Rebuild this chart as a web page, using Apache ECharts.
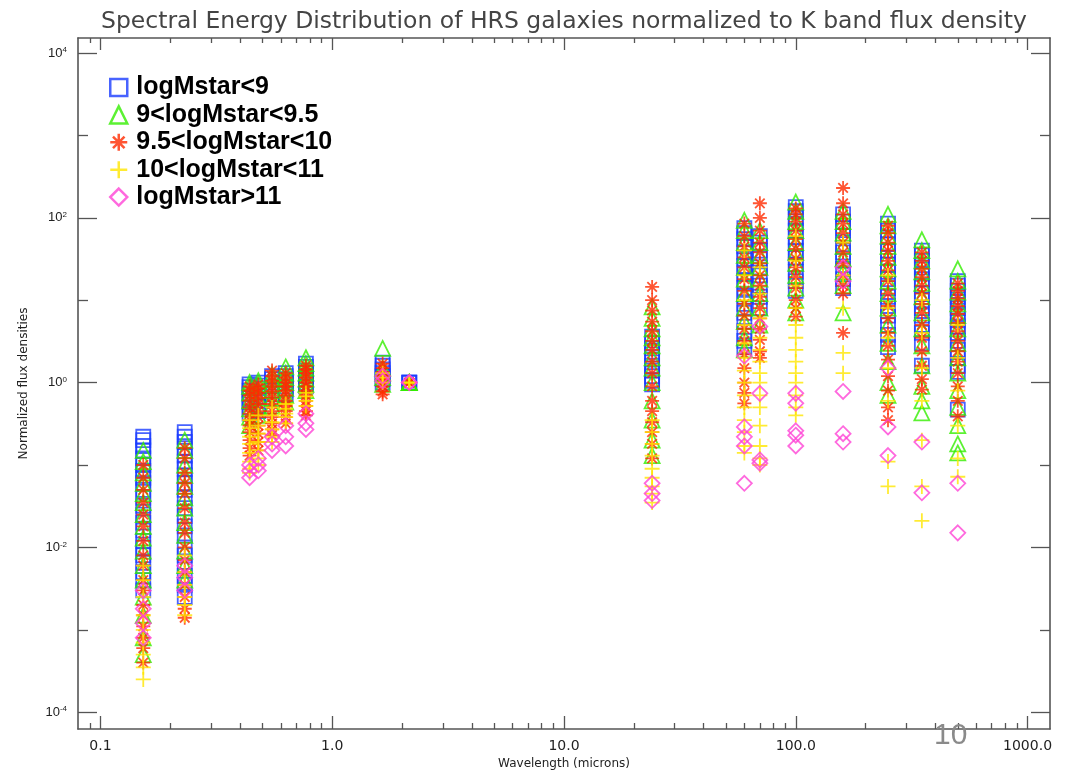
<!DOCTYPE html>
<html>
<head>
<meta charset="utf-8">
<title>HRS SED</title>
<script src="https://cdn.jsdelivr.net/npm/echarts@6/dist/echarts.min.js"></script>
<style>
    html, body {margin: 0; padding: 0; background: #ffffff;}
    #chart {width: 1074px; height: 774px;}
</style>
</head>
<body>
<div id="chart"></div>
<script>
// wavelengths (microns) of the bands: FUV, NUV, B, g, V, r, i, H, K, 24 ... 500
const bands = [0.153, 0.231, 0.44, 0.48, 0.55, 0.63, 0.77, 1.65, 2.15, 24, 60, 70, 100, 160, 250, 350, 500];

// flux densities normalized to K, one inner list per band (same order as bands)
const lowMass = [
    [0.22, 0.2, 0.17, 0.15, 0.12, 0.1, 0.085, 0.07, 0.06, 0.05, 0.04, 0.032, 0.025, 0.02, 0.016, 0.012, 0.01, 0.008, 0.0065, 0.005, 0.004, 0.003],
    [0.25, 0.22, 0.19, 0.16, 0.13, 0.11, 0.09, 0.075, 0.06, 0.05, 0.04, 0.03, 0.024, 0.018, 0.014, 0.01, 0.008, 0.006, 0.0045, 0.0035, 0.0025],
    [0.95, 0.88, 0.8, 0.72, 0.65, 0.58, 0.5, 0.42],
    [1.0, 0.92, 0.85, 0.75, 0.68, 0.6, 0.52, 0.45],
    [1.2, 1.1, 1.0, 0.9, 0.8, 0.72, 0.62],
    [1.3, 1.2, 1.1, 1.0, 0.9, 0.82, 0.72],
    [1.7, 1.55, 1.4, 1.3, 1.2, 1.1, 1.0, 0.9],
    [1.75, 1.6, 1.45, 1.3, 1.2, 1.1, 1.0],
    [1, 1, 1],
    [3.6, 3.0, 2.6, 2.2, 1.9, 1.6, 1.4, 1.2, 1.05, 0.95],
    [75, 65, 55, 45, 38, 32, 26, 21, 17, 14, 11, 9, 7, 5.5, 4.2, 3.2, 2.7],
    [60, 50, 40, 32, 25, 20, 15, 11, 8],
    [135, 120, 100, 85, 70, 58, 48, 40, 33, 27, 22, 17, 13],
    [110, 90, 75, 60, 48, 38, 30, 24, 18, 14],
    [85, 70, 58, 48, 40, 33, 27, 22, 18, 14, 11, 8.5, 6.5, 5, 3.8, 2.7],
    [40, 35, 30, 25, 21, 18, 15, 12, 10, 8, 6.5, 5, 4, 3, 1.6],
    [17, 15, 13, 11, 9.5, 8, 6.8, 5.7, 4.8, 4, 3.2, 2.5, 2.0, 1.6, 1.35, 0.47]
];
const midLowMass = [
    [0.15, 0.11, 0.08, 0.06, 0.045, 0.035, 0.025, 0.018, 0.013, 0.009, 0.006, 0.004, 0.0025, 0.0015, 0.0008, 0.0005],
    [0.2, 0.15, 0.1, 0.075, 0.055, 0.04, 0.03, 0.02, 0.014, 0.009, 0.006, 0.004],
    [1.0, 0.9, 0.75, 0.6, 0.48, 0.38, 0.3],
    [1.05, 0.95, 0.8, 0.65, 0.5, 0.4],
    [1.25, 1.1, 0.95, 0.8, 0.65, 0.52],
    [1.55, 1.3, 1.15, 1.0, 0.85, 0.7, 0.58],
    [2.0, 1.7, 1.5, 1.3, 1.1, 0.95, 0.8],
    [2.6, 1.5, 1.3, 1.15, 0.95],
    [1, 1, 1],
    [8.3, 6, 4.5, 3.5, 2.8, 2.0, 1.5, 1.0, 0.6, 0.35, 0.2, 0.13],
    [93, 70, 50, 35, 25, 18, 12, 8, 5.5, 3.5, 2.5],
    [70, 50, 35, 25, 18, 12, 8, 5],
    [155, 120, 90, 70, 50, 38, 28, 20, 14, 10, 7],
    [120, 90, 65, 45, 32, 22, 15, 7],
    [110, 80, 60, 45, 33, 24, 17, 12, 8, 5, 3, 1.8, 1.0, 0.7],
    [54, 40, 30, 22, 16, 11, 7, 4.5, 2.8, 1.6, 0.9, 0.6, 0.43],
    [24, 17, 12.5, 9, 6.5, 4.5, 3, 2, 1.3, 0.8, 0.5, 0.3, 0.18, 0.14]
];
const midHighMass = [
    [0.1, 0.07, 0.05, 0.035, 0.025, 0.018, 0.012, 0.008, 0.006, 0.004, 0.003, 0.002, 0.0015, 0.0011, 0.0008, 0.0006, 0.0004],
    [0.16, 0.12, 0.08, 0.06, 0.045, 0.03, 0.02, 0.015, 0.01, 0.007, 0.005, 0.0035, 0.0025, 0.0018, 0.0014],
    [0.9, 0.8, 0.7, 0.6, 0.5, 0.42, 0.35, 0.3, 0.25, 0.2, 0.16, 0.13],
    [0.95, 0.85, 0.75, 0.65, 0.55, 0.45, 0.38, 0.3, 0.24, 0.19, 0.15],
    [1.4, 1.2, 1.05, 0.9, 0.78, 0.66, 0.55, 0.45, 0.38, 0.32, 0.27, 0.23],
    [1.3, 1.15, 1.0, 0.9, 0.8, 0.7, 0.6, 0.52, 0.45, 0.38, 0.32],
    [1.6, 1.45, 1.3, 1.15, 1.0, 0.9, 0.8, 0.7, 0.6, 0.52, 0.45, 0.4],
    [1.7, 1.5, 1.35, 1.2, 1.1, 1.0, 0.9, 0.78, 0.72],
    [1, 1, 1],
    [14.5, 10, 7.5, 5.5, 4.2, 3.2, 2.5, 1.8, 1.3, 0.9, 0.6, 0.45, 0.33, 0.25, 0.18, 0.12],
    [85, 60, 45, 33, 25, 18, 13, 9, 6.5, 4.5, 3.2, 2.2, 1.5, 1.0, 0.75, 0.56],
    [150, 100, 70, 50, 38, 28, 20, 15, 11, 8, 6, 4.5, 3.3, 2.4, 2.0],
    [130, 110, 90, 70, 55, 42, 32, 25, 19, 14, 10, 8, 6.3],
    [230, 150, 110, 85, 65, 50, 38, 28, 20, 15, 12, 4.0],
    [80, 65, 50, 40, 30, 23, 17, 12, 8.5, 6, 4, 2.8, 1.9, 1.2, 0.8, 0.5, 0.35],
    [38, 30, 24, 19, 15, 12, 9, 7, 5, 3.5, 2.4, 1.6, 1.1, 0.82],
    [16, 13, 10.5, 8.5, 6.8, 5.3, 4.2, 3.2, 2.4, 1.8, 1.3, 0.9, 0.6, 0.39]
];
const highMass = [
    [0.006, 0.004, 0.0025, 0.0015, 0.001, 0.0007, 0.0005, 0.00035, 0.00025],
    [0.008, 0.005, 0.0035, 0.0025, 0.002, 0.0015],
    [0.35, 0.28, 0.22, 0.18, 0.14, 0.11, 0.09, 0.08],
    [0.4, 0.3, 0.24, 0.19, 0.15, 0.12, 0.1],
    [0.5, 0.4, 0.33, 0.27, 0.22, 0.19],
    [0.55, 0.48, 0.42, 0.38, 0.32],
    [0.75, 0.68, 0.6, 0.52],
    [1.3, 1.15, 1.0],
    [1, 1, 1],
    [0.35, 0.25, 0.18, 0.13, 0.09, 0.07, 0.055, 0.045, 0.035],
    [40, 20, 10, 5, 3, 2, 1.4, 1.0, 0.7, 0.5, 0.35, 0.25, 0.17, 0.14],
    [25, 12, 6, 3.5, 2.5, 1.8, 1.3, 1.0, 0.7, 0.5, 0.3, 0.17, 0.12, 0.1],
    [60, 30, 15, 8, 5, 3.5, 2.5, 1.8, 1.3, 1.0, 0.7, 0.5, 0.4],
    [50, 20, 8, 2.3, 1.3],
    [20, 8, 3.5, 1.5, 0.6, 0.11, 0.055],
    [10, 4, 1.5, 0.6, 0.2, 0.055, 0.021],
    [5, 2, 0.8, 0.3, 0.12, 0.072]
];
const massive = [
    [0.003, 0.0018, 0.0012, 0.0008],
    [0.006, 0.0043, 0.003],
    [0.1, 0.085, 0.07],
    [0.12, 0.1, 0.085],
    [0.22, 0.18, 0.15],
    [0.3, 0.22, 0.17],
    [0.42, 0.32, 0.27],
    [1.2, 1.05],
    [1, 1],
    [0.06, 0.045, 0.037],
    [2.1, 0.29, 0.22, 0.17, 0.06],
    [4.8, 0.74, 0.115, 0.105],
    [0.74, 0.56, 0.26, 0.23, 0.17],
    [25, 17, 0.78, 0.24, 0.19],
    [1.5, 0.29, 0.13],
    [0.19, 0.046],
    [0.06, 0.015]
];

const seriesNames = ['logMstar<9', '9<logMstar<9.5', '9.5<logMstar<10', '10<logMstar<11', 'logMstar>11'];

// axis ticks
const xMajorTicks = [0.1, 1, 10, 100, 1000];
const xTickLabels = ['0.1', '1.0', '10.0', '100.0', '1000.0'];
const xMinorTicks = [0.09, 0.2, 0.3, 0.4, 0.5, 0.6, 0.7, 0.8, 0.9, 2, 3, 4, 5, 6, 7, 8, 9,
    20, 30, 40, 50, 60, 70, 80, 90, 200, 300, 400, 500, 600, 700, 800, 900];
const yMajorTicks = [1e-4, 1e-2, 1, 1e2, 1e4];
const yTickExponents = ['-4', '-2', '0', '2', '4'];
const yMinorTicks = [1e-3, 1e-1, 10, 1e3];

const X_MIN = 0.08, X_MAX = 1250, Y_MIN = 6.25e-5, Y_MAX = 1.52e4;
const AXIS_COLOR = '#555555';

const groups = [lowMass, midLowMass, midHighMass, highMass, massive];
const colors = ['#1a3cff', '#33ee00', '#ff2a00', '#ffe600', '#ff44d6'];
const symbols = ['rect', 'triangle',
    'path://M0,5L10,5M5,0L5,10M1.6,1.6L8.4,8.4M8.4,1.6L1.6,8.4',
    'path://M0,5L10,5M5,0L5,10',
    'diamond'];
const sizes = [14, 15, 14, 15, 15];

function toPoints(group) {
    const pts = [];
    group.forEach(function (vals, j) {
        vals.forEach(function (v) {
            pts.push([bands[j], v]);
        });
    });
    return pts;
}

// position of a value in a tick list (log compare, the scale hands back pow() values)
function tickIndex(ticks, v) {
    for (let i = 0; i < ticks.length; i++) {
        if (Math.abs(Math.log10(ticks[i]) - Math.log10(v)) < 1e-6) return i;
    }
    return -1;
}

function xAxisOf(position, ticks, len, main) {
    return {
        type: 'log',
        position: position,
        min: X_MIN,
        max: X_MAX,
        axisLine: {show: main, onZero: false, lineStyle: {color: AXIS_COLOR, width: 1.6}},
        axisTick: {show: true, inside: true, length: len, customValues: ticks,
            lineStyle: {color: AXIS_COLOR, width: 1.3}},
        axisLabel: {
            show: main && position === 'bottom',
            customValues: xMajorTicks,
            formatter: function (v) {
                const i = tickIndex(xMajorTicks, v);
                return i < 0 ? '' : xTickLabels[i];
            },
            margin: 10,
            color: '#222222',
            fontFamily: 'DejaVu Sans',
            fontSize: 14
        },
        splitLine: {show: false},
        minorTick: {show: false},
        name: main && position === 'bottom' ? 'Wavelength (microns)' : '',
        nameLocation: 'middle',
        nameGap: 28,
        nameTextStyle: {color: '#222222', fontFamily: 'DejaVu Sans', fontSize: 12}
    };
}

function yAxisOf(position, ticks, len, main) {
    return {
        type: 'log',
        position: position,
        min: Y_MIN,
        max: Y_MAX,
        axisLine: {show: main, onZero: false, lineStyle: {color: AXIS_COLOR, width: 1.6}},
        axisTick: {show: true, inside: true, length: len, customValues: ticks,
            lineStyle: {color: AXIS_COLOR, width: 1.3}},
        axisLabel: {
            show: main && position === 'left',
            customValues: yMajorTicks,
            formatter: function (v) {
                const i = tickIndex(yMajorTicks, v);
                return i < 0 ? '' : '{b|10}{e|' + yTickExponents[i] + '}';
            },
            margin: 11,
            rich: {
                b: {fontSize: 13, color: '#222222', fontFamily: 'Liberation Sans'},
                e: {fontSize: 8, color: '#222222', fontFamily: 'Liberation Sans', verticalAlign: 'top', padding: [0, 0, 6, 0]}
            }
        },
        splitLine: {show: false},
        minorTick: {show: false},
        name: main && position === 'left' ? 'Normalized flux densities' : '',
        nameLocation: 'middle',
        nameGap: 48,
        nameTextStyle: {color: '#222222', fontFamily: 'DejaVu Sans', fontSize: 12}
    };
}

const chart = echarts.init(document.getElementById('chart'), null, {renderer: 'canvas'});

const option = {
    animation: false,
    backgroundColor: '#ffffff',
    title: {
        text: 'Spectral Energy Distribution of HRS galaxies normalized to K band flux density',
        left: 96,
        top: 5,
        textStyle: {color: '#444444', fontFamily: 'DejaVu Sans', fontWeight: 'normal', fontSize: 23.5}
    },
    legend: {
        orient: 'vertical',
        left: 104,
        top: 70,
        itemWidth: 17,
        itemHeight: 17,
        itemGap: 2.4,
        selectedMode: false,
        itemStyle: {borderWidth: 2.5},
        textStyle: {color: '#000000', fontFamily: 'Liberation Sans', fontWeight: 'bold', fontSize: 25,
            padding: [0, 0, 0, 4]},
        data: seriesNames
    },
    grid: {left: 78, right: 24, top: 38, bottom: 45, containLabel: false, outerBoundsMode: 'none'},
    xAxis: [
        xAxisOf('bottom', xMajorTicks, 13, true),
        xAxisOf('bottom', xMinorTicks, 6, false),
        xAxisOf('top', xMajorTicks, 12, true),
        xAxisOf('top', xMinorTicks, 5, false)
    ],
    yAxis: [
        yAxisOf('left', yMajorTicks, 19, true),
        yAxisOf('left', yMinorTicks, 10, false),
        yAxisOf('right', yMajorTicks, 19, true),
        yAxisOf('right', yMinorTicks, 10, false)
    ],
    graphic: [{
        type: 'text',
        left: 934,
        top: 721,
        z: 100,
        style: {text: '10', fill: '#8a8a8a', font: '30px "Liberation Sans"'}
    }],
    series: groups.map(function (g, i) {
        return {
            name: seriesNames[i],
            type: 'scatter',
            xAxisIndex: 0,
            yAxisIndex: 0,
            symbol: symbols[i],
            symbolSize: sizes[i],
            data: toPoints(g),
            itemStyle: {color: 'transparent', borderColor: colors[i], borderWidth: 1.8, opacity: 0.8},
            emphasis: {disabled: true},
            z: 2 + i
        };
    })
};

chart.setOption(option);
</script>
</body>
</html>
